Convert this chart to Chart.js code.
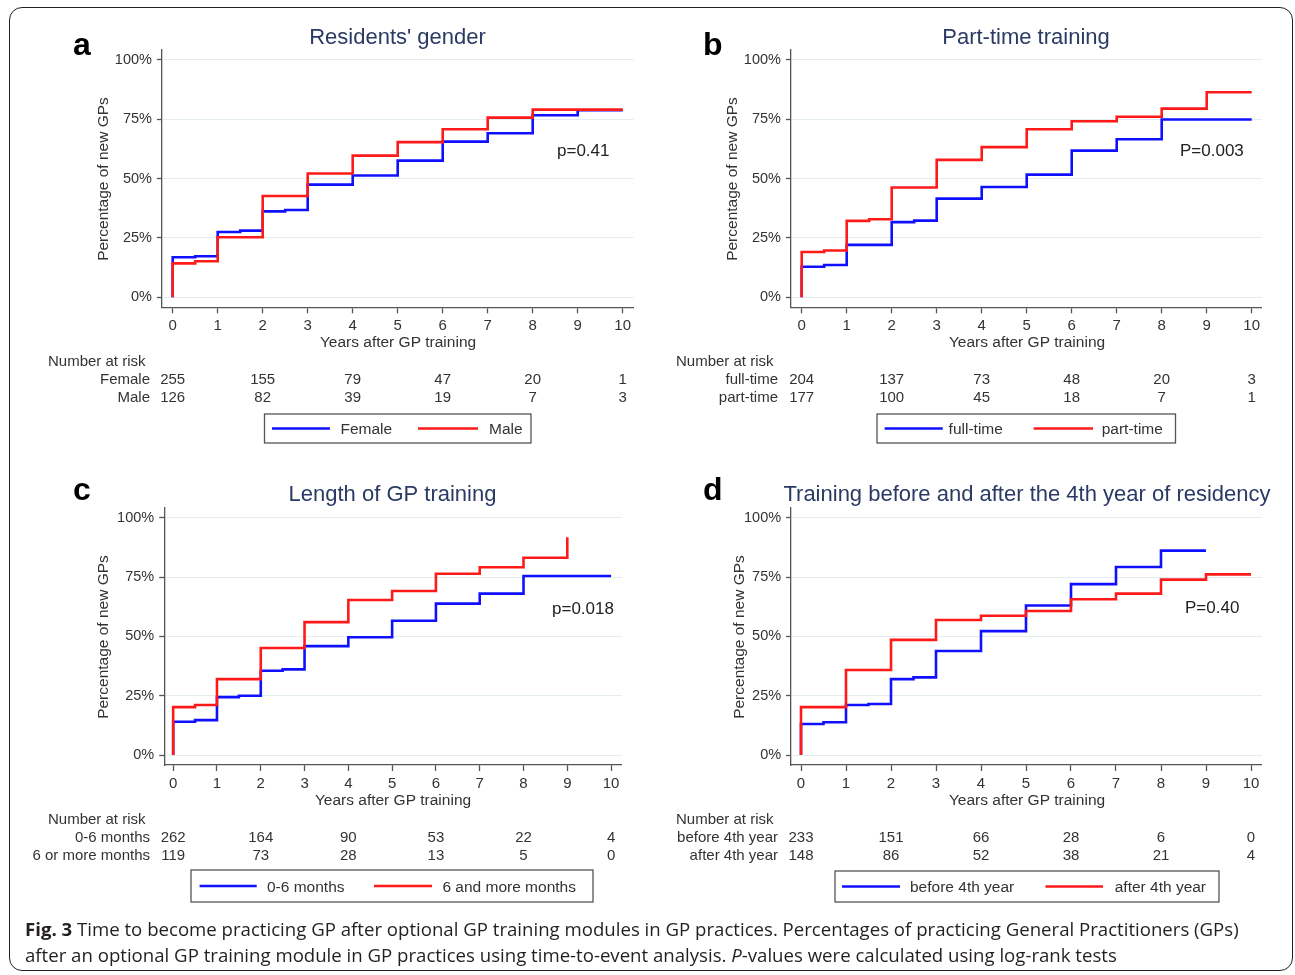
<!DOCTYPE html>
<html><head><meta charset="utf-8">
<script src="https://cdn.jsdelivr.net/npm/chart.js@4.4.1/dist/chart.umd.min.js"></script>
<style>
html,body{margin:0;padding:0;background:#fff;}
#page{position:relative;width:1295px;height:975px;overflow:hidden;background:#fff;}
#frame{position:absolute;left:9px;top:7px;width:1284px;height:964px;border:1.6px solid #222;border-radius:13px;box-sizing:border-box;}
canvas{position:absolute;}
#cap{position:absolute;left:25px;top:916px;font-family:'Open Sans',sans-serif;color:#231f20;white-space:nowrap;font-size:17px;line-height:26px;}
#cap div{display:block;}
#cap span{display:inline-block;}
</style></head>
<body><div id="page"><div id="frame"></div>
<canvas id="ca"></canvas><canvas id="cb"></canvas><canvas id="cc"></canvas><canvas id="cd"></canvas>
<div id="cap"><div><span id="l1"><b>Fig. 3</b> Time to become practicing GP after optional GP training modules in GP practices. Percentages of practicing General Practitioners (GPs)</span></div><div><span id="l2">after an optional GP training module in GP practices using time-to-event analysis. <i>P</i>-values were calculated using log-rank tests</span></div></div>
</div>
<script>
// ---------- data ----------
const years = [0, 0, 0.5, 1, 1.5, 2, 2.5, 3, 4, 5, 6, 7, 8, 9, 10];
const riskYears = [0, 2, 4, 6, 8, 10];
const xTickValues = [0, 1, 2, 3, 4, 5, 6, 7, 8, 9, 10];
const yTickValues = [0, 25, 50, 75, 100];

// a: Residents' gender
const genderFemale = [0, 16.9, 17.3, 27.5, 28.1, 36.2, 36.8, 47.5, 51.3, 57.6, 65.6, 69.1, 76.7, 78.8, 78.8];
const genderMale   = [0, 14.3, 15.2, 25.3, 25.3, 42.7, 42.7, 52.2, 59.7, 65.4, 70.8, 75.7, 79.1, 79.1, 79.1];
const riskFemale = [255, 155, 79, 47, 20, 1];
const riskMale   = [126, 82, 39, 19, 7, 3];

// b: Part-time training
const trainingFull = [0, 12.9, 13.6, 22.1, 22.1, 31.7, 32.3, 41.6, 46.5, 51.7, 61.8, 66.6, 74.9, 74.9, 74.9];
const trainingPart = [0, 19.1, 19.7, 32.2, 32.9, 46.3, 46.3, 57.9, 63.3, 70.8, 74.2, 76.1, 79.5, 86.4, 86.4];
const riskFull = [204, 137, 73, 48, 20, 3];
const riskPart = [177, 100, 45, 18, 7, 1];

// c: Length of GP training
const length06   = [0, 14.0, 14.7, 24.4, 25.0, 35.5, 36.1, 45.9, 49.6, 56.6, 63.8, 68.0, 75.4, 75.4, 75.4];
const length6up  = [0, 20.2, 21.1, 32.0, 32.0, 45.1, 45.1, 56.0, 65.3, 69.1, 76.4, 79.1, 83.1, 91.7, null];
const risk06  = [262, 164, 90, 53, 22, 4];
const risk6up = [119, 73, 28, 13, 5, 0];

// d: Training before and after the 4th year of residency
const yearBefore = [0, 13.1, 13.8, 21.1, 21.5, 32.0, 32.7, 43.8, 52.2, 63.0, 72.0, 79.2, 86.1, 86.1, null];
const yearAfter  = [0, 20.2, 20.2, 35.8, 35.8, 48.5, 48.5, 56.9, 58.7, 60.7, 65.6, 68.0, 73.9, 76.1, 76.1];
const riskBefore = [233, 151, 66, 28, 6, 0];
const riskAfter  = [148, 86, 52, 38, 21, 4];

// ---------- layout / style ----------
const FONT = "'Liberation Sans', Arial, Helvetica, sans-serif";
const BLUE = '#1010ff', RED = '#ff1a1a';
const TY = 1.5; // text baseline nudge
const panels = [
  { id:'ca', ox:0, oy:0, w:650, h:465, letter:'a', letterX:73, letterY:55,
    title:"Residents' gender", titleX:397.5, titleY:43.5,
    area:{l:161.9, r:633.5, t:50.0, b:307.3}, xMin:-0.24, xMax:10.24,
    yTitleX:102, yTitleY:179, xTitleX:398, xTitleY:341,
    pText:'p=0.41', pX:557, pY:150,
    narX:48, rowRight:150, rowY:[378, 396], narY:360,
    series:[{label:'Female', rowLabel:'Female', values:genderFemale, risk:riskFemale, color:BLUE},
            {label:'Male', rowLabel:'Male', values:genderMale, risk:riskMale, color:RED}],
    legend:{l:264.5, r:531, t:414, b:443, items:[[272,330,340.5],[418,478,489]]} },
  { id:'cb', ox:647, oy:0, w:648, h:465, letter:'b', letterX:703, letterY:55,
    title:'Part-time training', titleX:1026, titleY:43.5,
    area:{l:790.9, r:1261.6, t:50.0, b:307.3}, xMin:-0.24, xMax:10.22,
    yTitleX:731, yTitleY:179, xTitleX:1027, xTitleY:341,
    pText:'P=0.003', pX:1180, pY:150,
    narX:676, rowRight:778, rowY:[378, 396], narY:360,
    series:[{label:'full-time', rowLabel:'full-time', values:trainingFull, risk:riskFull, color:BLUE},
            {label:'part-time', rowLabel:'part-time', values:trainingPart, risk:riskPart, color:RED}],
    legend:{l:877, r:1175.5, t:414, b:443, items:[[884.6,942.7,948.6],[1033.7,1093,1101.7]]} },
  { id:'cc', ox:0, oy:462, w:650, h:455, letter:'c', letterX:73, letterY:500,
    title:'Length of GP training', titleX:392.5, titleY:501,
    area:{l:164.2, r:621.6, t:507.7, b:765.0}, xMin:-0.205, xMax:10.24,
    yTitleX:102, yTitleY:637, xTitleX:393, xTitleY:799,
    pText:'p=0.018', pX:552, pY:607.5,
    narX:48, rowRight:150, rowY:[836, 854], narY:818,
    series:[{label:'0-6 months', rowLabel:'0-6 months', values:length06, risk:risk06, color:BLUE},
            {label:'6 and more months', rowLabel:'6 or more months', values:length6up, risk:risk6up, color:RED}],
    legend:{l:191, r:593, t:870, b:902, items:[[199.6,256.7,267],[374,432,442.4]]} },
  { id:'cd', ox:647, oy:462, w:648, h:455, letter:'d', letterX:703, letterY:500,
    title:'Training before and after the 4th year of residency', titleX:1027, titleY:501,
    area:{l:791.1, r:1261.8, t:507.7, b:765.0}, xMin:-0.22, xMax:10.24,
    yTitleX:738, yTitleY:637, xTitleX:1027, xTitleY:799,
    pText:'P=0.40', pX:1185, pY:606.5,
    narX:676, rowRight:778, rowY:[836, 854], narY:818,
    series:[{label:'before 4th year', rowLabel:'before 4th year', values:yearBefore, risk:riskBefore, color:BLUE},
            {label:'after 4th year', rowLabel:'after 4th year', values:yearAfter, risk:riskAfter, color:RED}],
    legend:{l:835, r:1219, t:871, b:902, items:[[842,900,910],[1045.5,1103,1114.7]]} }
];

const Y_W = 60, X_H = 40;

function makePanel(p) {
  const cv = document.getElementById(p.id);
  cv.width = p.w; cv.height = p.h;
  cv.style.left = p.ox + 'px'; cv.style.top = p.oy + 'px';
  cv.style.width = p.w + 'px'; cv.style.height = p.h + 'px';
  const padding = {
    left: p.area.l - p.ox - Y_W,
    top: p.area.t - p.oy,
    right: p.ox + p.w - p.area.r,
    bottom: p.oy + p.h - p.area.b - X_H
  };
  const decor = {
    id: 'decor_' + p.id,
    afterDraw(chart) {
      const ctx = chart.ctx;
      const xs = chart.scales.x;
      ctx.save();
      ctx.translate(-p.ox, -p.oy);
      // panel letter
      ctx.fillStyle = '#000';
      ctx.font = 'bold 32px ' + FONT;
      ctx.textAlign = 'left'; ctx.textBaseline = 'alphabetic';
      ctx.fillText(p.letter, p.letterX, p.letterY);
      // title
      ctx.fillStyle = '#2a3a64';
      ctx.font = '22px ' + FONT;
      ctx.textAlign = 'center';
      ctx.fillText(p.title, p.titleX, p.titleY);
      // axis titles
      ctx.fillStyle = '#333';
      ctx.font = '15.5px ' + FONT;
      ctx.textBaseline = 'middle';
      ctx.fillText('Years after GP training', p.xTitleX, p.xTitleY + TY);
      ctx.save();
      ctx.translate(p.yTitleX + TY, p.yTitleY);
      ctx.rotate(-Math.PI / 2);
      ctx.fillText('Percentage of new GPs', 0, 0);
      ctx.restore();
      // p value
      ctx.fillStyle = '#222';
      ctx.font = '17px ' + FONT;
      ctx.textAlign = 'left';
      ctx.fillText(p.pText, p.pX, p.pY + TY);
      // number at risk
      ctx.fillStyle = '#333';
      ctx.font = '15px ' + FONT;
      ctx.textAlign = 'left';
      ctx.fillText('Number at risk', p.narX, p.narY + TY);
      p.series.forEach((s, k) => {
        ctx.textAlign = 'right';
        ctx.fillText(s.rowLabel, p.rowRight, p.rowY[k] + TY);
        ctx.textAlign = 'center';
        s.risk.forEach((n, j) => {
          ctx.fillText(String(n), xs.getPixelForValue(riskYears[j]) + p.ox, p.rowY[k] + TY);
        });
      });
      // legend
      const L = p.legend;
      ctx.strokeStyle = '#555';
      ctx.lineWidth = 1.3;
      ctx.strokeRect(L.l, L.t, L.r - L.l, L.b - L.t);
      const ly = (L.t + L.b) / 2;
      p.series.forEach((s, k) => {
        const it = L.items[k];
        ctx.strokeStyle = s.color;
        ctx.lineWidth = 2.6;
        ctx.beginPath(); ctx.moveTo(it[0], ly); ctx.lineTo(it[1], ly); ctx.stroke();
        ctx.fillStyle = '#333';
        ctx.font = '15.5px ' + FONT;
        ctx.textAlign = 'left';
        ctx.fillText(s.label, it[2], ly + TY);
      });
      ctx.restore();
    }
  };
  const datasets = p.series.map(s => ({
    label: s.label,
    data: years.map((t, i) => ({ x: t, y: s.values[i] })),
    borderColor: s.color,
    borderWidth: 2.6,
    pointRadius: 0,
    stepped: 'before',
    fill: false,
    spanGaps: false
  })).reverse(); // red drawn on top
  new Chart(cv, {
    type: 'line',
    data: { datasets },
    options: {
      responsive: false, animation: false, devicePixelRatio: 1,
      layout: { padding },
      plugins: { legend: { display: false }, tooltip: { enabled: false }, title: { display: false } },
      events: [],
      scales: {
        x: {
          type: 'linear', min: p.xMin, max: p.xMax,
          afterBuildTicks: sc => { sc.ticks = xTickValues.map(v => ({ value: v })); },
          afterFit: sc => { sc.height = X_H; },
          ticks: { autoSkip: false, maxRotation: 0, minRotation: 0, padding: 4, color: '#333',
                   font: { family: FONT, size: 15 }, callback: v => String(v) },
          grid: { display: true, drawOnChartArea: false, drawTicks: true, tickLength: 6,
                  tickColor: '#555', tickWidth: 1.3 },
          border: { display: true, color: '#555', width: 1.3 }
        },
        y: {
          type: 'linear', min: -4.2, max: 104.2,
          afterBuildTicks: sc => { sc.ticks = yTickValues.map(v => ({ value: v })); },
          afterFit: sc => { sc.width = Y_W; },
          ticks: { padding: 5, color: '#333', font: { family: FONT, size: 14.5 }, callback: v => v + '%' },
          grid: { display: true, color: '#e3edf0', lineWidth: 1, drawTicks: true, tickLength: 5,
                  tickColor: '#555', tickWidth: 1.3 },
          border: { display: true, color: '#555', width: 1.3 }
        }
      }
    },
    plugins: [decor]
  });
}
panels.forEach(makePanel);

// caption fit
(function () {
  const l1 = document.getElementById('l1');
  const cap = document.getElementById('cap');
  const w = l1.getBoundingClientRect().width;
  const fs = 17 * 1215 / w;
  cap.style.fontSize = fs.toFixed(2) + 'px';
})();
</script>
</body></html>
